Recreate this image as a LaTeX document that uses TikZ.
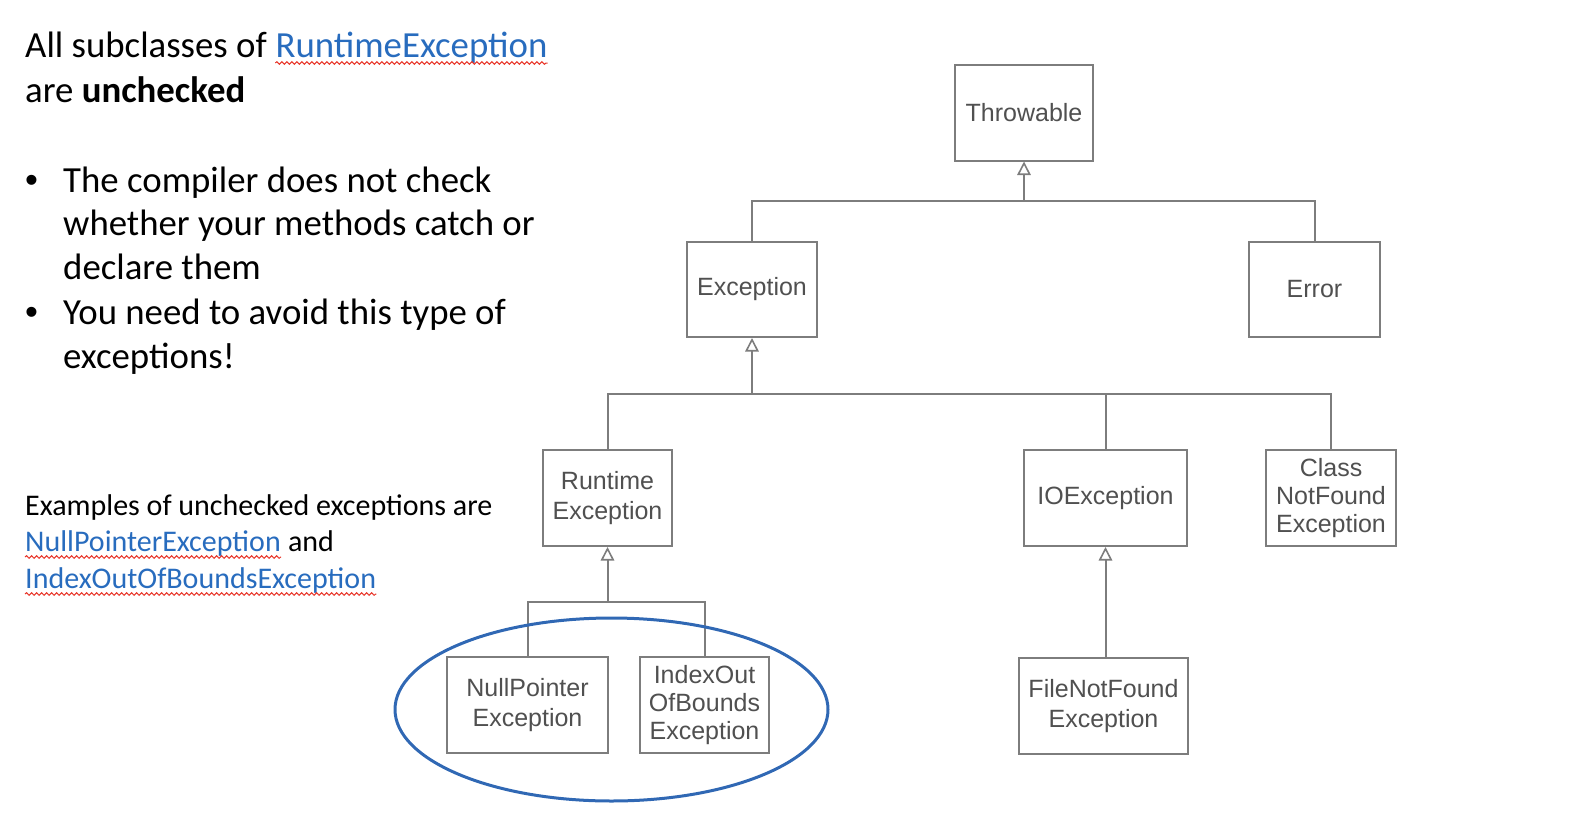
\documentclass[tikz,border=0pt]{standalone}
\usepackage{fontspec}
\setmainfont{Carlito}
\newfontfamily\boxfont{Liberation Sans}
\usetikzlibrary{arrows.meta,decorations.pathmorphing}
\definecolor{linkblue}{RGB}{40,108,190}
\definecolor{ellblue}{RGB}{48,104,180}
\definecolor{boxgray}{RGB}{125,125,125}
\definecolor{txtgray}{RGB}{80,80,80}
\definecolor{spell}{RGB}{232,52,40}
\begin{document}
\begin{tikzpicture}[x=1pt,y=-1pt,
  cls/.style={draw=boxgray, line width=2pt, fill=white, text=txtgray,
    font=\boxfont\fontsize{25}{30}\selectfont, align=center, inner sep=0pt,
    minimum height=96pt},
  cls3/.style={cls, font=\boxfont\fontsize{25}{28}\selectfont},
  conn/.style={draw=boxgray, line width=2pt},
  inh/.style={conn, -{Triangle[open, length=13.5pt, width=13.5pt, line width=1.6pt]}},
  big/.style={font=\fontsize{36.8}{45}\selectfont, inner sep=0pt, anchor=base west},
  small/.style={font=\fontsize{30}{37}\selectfont, inner sep=0pt, anchor=base west},
  bul/.style={font=\boxfont\fontsize{36.8}{45}\selectfont, inner sep=0pt, anchor=base west},
  wavy/.style={draw=spell, line width=1pt, decorate,
    decoration={snake, amplitude=1.3pt, segment length=5pt}}
]
\useasboundingbox (0,0) rectangle (1582,830);

% class boxes
\node[cls, minimum width=138pt] (thr) at (1024,112.5) {Throwable};
\node[cls, minimum width=130pt, minimum height=95pt] (exc) at (752,289.5) {Exception};
\node[cls, minimum width=131pt, minimum height=95pt] (err) at (1314.5,289.5) {Error};
\node[cls, minimum width=129pt] (rte) at (607.5,498) {Runtime\\Exception};
\node[cls, minimum width=163pt] (ioe) at (1105.5,498) {IOException};
\node[cls3, minimum width=130pt] (cnf) at (1331,498) {Class\\NotFound\\Exception};
\node[cls, minimum width=161pt] (npe) at (527.5,705) {NullPointer\\Exception};
\node[cls3, minimum width=129pt] (ioob) at (704.5,705) {IndexOut\\OfBounds\\Exception};
\node[cls, minimum width=169pt] (fnf) at (1103.5,706) {FileNotFound\\Exception};

% connectors
\coordinate (j1) at (1024,201);
\draw[inh] (j1) -- (thr.south);
\draw[conn] (exc.north) |- (j1) -| (err.north);

\coordinate (j2) at (752,394);
\draw[inh] (j2) -- (exc.south);
\draw[conn] (rte.north) |- (j2) -| (cnf.north);
\draw[conn] (ioe.north) -- (ioe.north |- j2);

\coordinate (j3) at (607.5,602);
\draw[inh] (j3) -- (rte.south);
\draw[conn] (npe.north) |- (j3) -| (ioob.north);

\coordinate (f1) at (1105.5,658);
\draw[inh] (f1) -- (ioe.south);

% highlight ellipse
\draw[ellblue, line width=3pt] (611.5,709.5) ellipse [x radius=216.5pt, y radius=91.5pt];

% left text
\node[big] (h1) at (25,57) {All subclasses of};
\node[big, text=linkblue] (h1b) at ([xshift=8.3pt]h1.base east) {RuntimeException};
\draw[wavy] ([yshift=-6pt]h1b.base west) -- ([yshift=-6pt]h1b.base east);
\node[big] (h2) at (25,102) {are \textbf{unchecked}};

\node[bul] (b1) at (25,192) {•};
\node[big] (l1) at (63,192) {The compiler does not check};
\node[big] (l2) at (63,235) {whether your methods catch or};
\node[big] (l3) at (63,279) {declare them};
\node[bul] (b2) at (25,324) {•};
\node[big] (l4) at (63,324) {You need to avoid this type of};
\node[big] (l5) at (63,368) {exceptions!};

\node[small] (e1) at (25,515) {Examples of unchecked exceptions are};
\node[small, text=linkblue] (e2) at (25,551) {NullPointerException};
\node[small] (e2b) at ([xshift=6.8pt]e2.base east) {and};
\draw[wavy] ([yshift=-6pt]e2.base west) -- ([yshift=-6pt]e2.base east);
\node[small, text=linkblue] (e3) at (25,588) {IndexOutOfBoundsException};
\draw[wavy] ([yshift=-6pt]e3.base west) -- ([yshift=-6pt]e3.base east);
\end{tikzpicture}
\end{document}
